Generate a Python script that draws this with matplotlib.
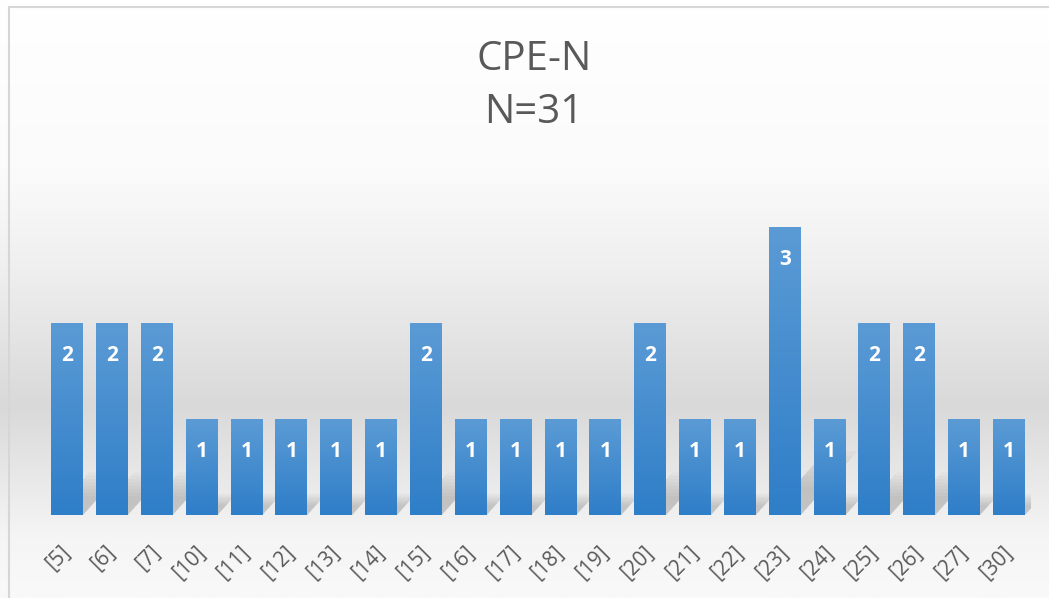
import matplotlib
matplotlib.use("Agg")
import matplotlib.pyplot as plt
import matplotlib.transforms as mtransforms
import numpy as np
from matplotlib.colors import LinearSegmentedColormap
from matplotlib.patches import Rectangle, Polygon

categories = ["[5]", "[6]", "[7]", "[10]", "[11]", "[12]", "[13]", "[14]", "[15]", "[16]", "[17]",
              "[18]", "[19]", "[20]", "[21]", "[22]", "[23]", "[24]", "[25]", "[26]", "[27]", "[30]"]
counts = [2, 2, 2, 1, 1, 1, 1, 1, 2, 1, 1, 1, 1, 2, 1, 1, 3, 1, 2, 2, 1, 1]
title = "CPE-N\nN=31"

W, H = 1049, 598
fig = plt.figure(figsize=(W / 100, H / 100), dpi=100)

# background gradient (Excel style: white -> grey band -> light)
bg = fig.add_axes([0, 0, 1, 1])
bg.set_axis_off()
bg_cmap = LinearSegmentedColormap.from_list(
    "bg", [(0.0, "#f9f9f9"), (0.10, "#f5f5f5"), (0.32, "#d9d9d9"),
           (0.55, "#efefef"), (0.72, "#fbfbfb"), (1.0, "#ffffff")])
grad = np.linspace(0, 1, 256).reshape(-1, 1)
bg.imshow(grad, cmap=bg_cmap, aspect="auto", extent=[0, 1, 0, 1], origin="lower")
bg.add_patch(Rectangle((9 / W, -0.1), 1.2, 1 - 7 / H + 0.1, fill=False,
                       ec="#d6d6d6", lw=1.5, transform=bg.transAxes))
bg.set_xlim(0, 1); bg.set_ylim(0, 1)

# plot area
x0, x1 = 44.6 / W, 1031.4 / W
y0 = 1 - 515 / H
ytop = 1 - 179 / H
ax = fig.add_axes([x0, y0, x1 - x0, ytop - y0])
ax.set_facecolor("none")
x = np.arange(len(categories))
w = 0.71

# soft perspective shadows behind bars
for xi, c in zip(x, counts):
    for k in range(8):
        s = 0.45 + k * 0.08
        dx, dy = 0.42 * c * s, 0.22 * c * s
        ax.add_patch(Polygon([(xi - w / 2, 0), (xi + w / 2, 0),
                              (xi + w / 2 + dx, dy), (xi - w / 2 + dx, dy)],
                             closed=True, fc="#6a6a6a", ec="none", alpha=0.045, zorder=1))

bar_cmap = LinearSegmentedColormap.from_list("bar", ["#2f7ec8", "#5b9bd5"])
bars = ax.bar(x, counts, width=w, color="#4a8fd0", zorder=2)
for b in bars:
    im = ax.imshow(np.linspace(0, 1, 100).reshape(-1, 1), cmap=bar_cmap, aspect="auto",
                   extent=[b.get_x(), b.get_x() + b.get_width(), 0, b.get_height()],
                   origin="lower", zorder=3)
    im.set_clip_path(b)
ax.set_xlim(-0.5, len(categories) - 0.5)
ax.set_ylim(0, 3.5)

for xi, c in zip(x, counts):
    ax.text(xi, c - 0.34, str(c), ha="center", va="center", color="white",
            fontsize=15, fontweight="bold", family="Open Sans", zorder=4)

ax.set_xticks(x)
ax.set_xticklabels(categories, rotation=45, ha="right", rotation_mode="anchor",
                   fontsize=15, color="#595959", family="Open Sans")
ax.tick_params(axis="x", length=0, pad=19)
shift = mtransforms.ScaledTranslation(-7 / 100, 0, fig.dpi_scale_trans)
for lab in ax.get_xticklabels():
    lab.set_transform(lab.get_transform() + shift)
ax.set_yticks([])
for s in ax.spines.values():
    s.set_visible(False)

fig.text(534 / W, 1 - 60 / H, "CPE-N", ha="center", va="center", fontsize=29,
         color="#595959", family="Open Sans")
fig.text(534 / W, 1 - 113 / H, "N=31", ha="center", va="center", fontsize=29,
         color="#595959", family="Open Sans")

fig.savefig("out.png", dpi=100)
